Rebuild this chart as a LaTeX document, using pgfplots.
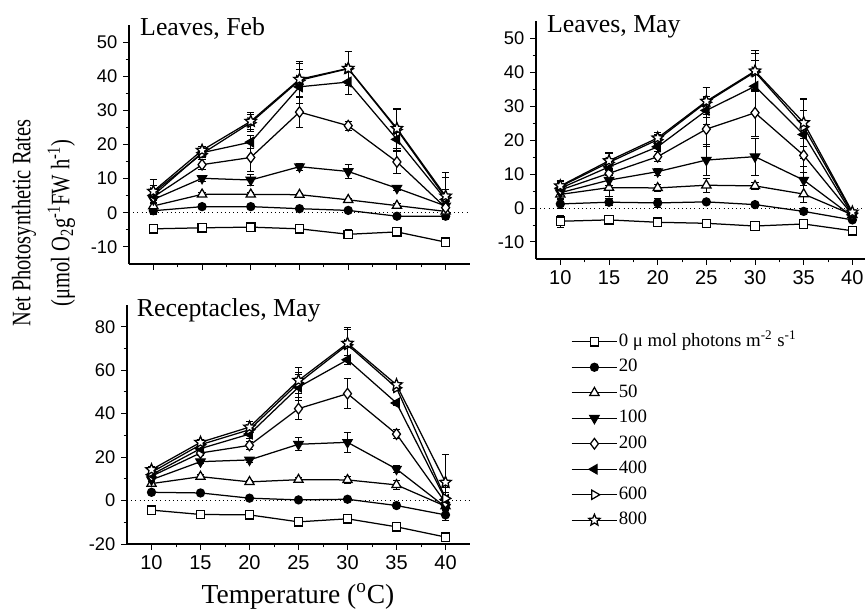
\documentclass[border=0pt]{standalone}
\usepackage{fontspec}
\setmainfont{Liberation Serif}
\newfontfamily\arialfont{Liberation Sans}
\usepackage{graphicx}
\usepackage{pgfplots}
\pgfplotsset{compat=1.18}
\usepackage{pgfplotstable}

\pgfdeclareplotmark{ostar}{%
  \pgfpathmoveto{\pgfpointpolar{90}{\pgfplotmarksize}}%
  \pgfpathlineto{\pgfpointpolar{126}{0.45\pgfplotmarksize}}%
  \pgfpathlineto{\pgfpointpolar{162}{\pgfplotmarksize}}%
  \pgfpathlineto{\pgfpointpolar{198}{0.45\pgfplotmarksize}}%
  \pgfpathlineto{\pgfpointpolar{234}{\pgfplotmarksize}}%
  \pgfpathlineto{\pgfpointpolar{270}{0.45\pgfplotmarksize}}%
  \pgfpathlineto{\pgfpointpolar{306}{\pgfplotmarksize}}%
  \pgfpathlineto{\pgfpointpolar{342}{0.45\pgfplotmarksize}}%
  \pgfpathlineto{\pgfpointpolar{18}{\pgfplotmarksize}}%
  \pgfpathlineto{\pgfpointpolar{54}{0.45\pgfplotmarksize}}%
  \pgfpathclose
  \pgfusepathqfillstroke
}

% columns: T, value and error for each irradiance
\pgfplotstableread{
T  s0   e0  s20  e20 s50 e50 s100 e100 s200 e200 s400 e400 s600 e600 s800 e800
10 -4.7 0.8 0.6  1.0 2.0 0.8 3.9  1.0  4.6  1.0  5.1  1.5  5.9  2.0  6.3  3.5
15 -4.4 0.5 1.8  0.5 5.4 0.5 10.1 0.8  14.1 1.5  17.6 1.0  17.3 1.0  18.3 1.0
20 -4.2 1.2 1.8  0.5 5.4 0.5 9.6  1.5  16.2 4.0  20.7 2.0  26.4 2.5  26.8 2.5
25 -4.7 1.2 1.2  0.5 5.3 0.5 13.5 1.0  29.5 4.5  36.9 5.0  38.8 5.0  39.1 5.3
30 -6.3 1.3 0.7  0.5 3.8 0.5 12.1 2.0  25.5 1.3  38.3 3.5  42.2 5.0  42.3 5.0
35 -5.6 1.0 -1.0 0.5 2.1 0.5 7.2  0.8  14.9 3.5  21.5 3.5  24.4 6.0  24.7 6.0
40 -8.6 1.0 -1.0 0.5 0.4 0.5 2.0  2.0  1.5  2.0  3.9  3.0  4.4  6.0  4.9  7.0
}\leavesfeb

\pgfplotstableread{
T  s0   e0  s20  e20 s50  e50 s100 e100 s200 e200 s400 e400 s600 e600 s800 e800
10 -3.9 1.8 1.2  1.2 4.0  1.2 4.5  1.0  5.3  1.0  5.8  1.5  6.3  1.5  6.5  1.5
15 -3.5 0.5 1.7  1.0 6.0  2.5 8.2  1.5  10.2 1.5  12.1 2.0  13.4 2.5  13.9 2.5
20 -4.2 0.5 1.5  1.2 5.9  1.0 10.7 1.0  15.1 1.5  18.0 1.5  20.1 1.5  20.6 1.5
25 -4.5 0.8 1.8  0.8 6.7  2.0 14.1 4.5  23.2 5.0  28.7 4.0  31.1 4.5  31.4 4.0
30 -5.3 0.5 1.0  0.5 6.5  1.0 15.1 5.5  28.0 7.0  35.8 7.5  40.0 5.5  40.3 6.0
35 -4.7 0.5 -1.0 1.0 4.1  2.5 8.2  4.0  15.5 5.0  21.6 7.0  23.9 8.0  25.1 7.0
40 -6.7 0.5 -3.5 0.5 -2.0 0.5 -2.5 0.5  -2.0 0.5  -2.0 0.5  -1.5 0.5  -1.2 0.5
}\leavesmay

\pgfplotstableread{
T  s0    e0  s20  e20 s50  e50 s100 e100 s200 e200 s400 e400 s600 e600 s800 e800
10 -4.4  0.5 3.8  0.5 7.8  0.8 9.6  0.8  11.2 1.0  11.9 1.0  13.0 1.0  14.2 1.5
15 -6.4  0.5 3.5  0.5 11.0 0.8 17.9 0.8  21.9 1.0  23.9 1.0  25.7 1.0  26.8 1.5
20 -6.6  0.5 1.1  0.8 8.6  0.8 18.7 1.0  25.4 2.0  30.6 2.0  32.6 2.0  33.8 2.5
25 -9.8  0.8 0.3  0.5 9.6  1.0 25.9 3.0  42.3 5.0  52.2 6.0  54.1 5.0  55.3 6.0
30 -8.4  0.8 0.6  0.5 9.5  1.5 26.8 4.5  49.2 7.0  64.8 2.0  71.7 7.0  72.4 7.5
35 -12.1 1.5 -2.3 0.8 7.2  2.0 14.5 1.5  30.6 2.0  44.9 1.0  51.9 1.0  53.3 1.0
40 -16.8 0.5 -6.6 2.5 -2.6 1.0 -3.0 3.0  -1.0 3.0  0.5  3.0  1.0  5.0  8.4  13.0
}\recmay

\pgfplotsset{
  panel/.style={
    scale only axis,
    axis x line*=bottom, axis y line*=left,
    xmin=7.5, xmax=42.5,
    xtick={10,15,...,40},
    minor x tick num=1,
    minor y tick num=1,
    tick align=outside,
    major tick length=3.5pt, minor tick length=2pt,
    tick style={black, line width=0.6pt},
    axis line style={black, line width=0.7pt},
    x tick label style={font=\fontsize{12}{12}\selectfont\arialfont},
    y tick label style={font=\fontsize{11}{11}\selectfont\arialfont},
    /pgf/number format/assume math mode=true,
    clip=false,
    legend image code/.code={\draw[mark repeat=2, mark phase=2] plot coordinates {(0cm,0cm) (0.48cm,0cm) (0.96cm,0cm)};},
    every axis plot/.append style={black, line width=0.75pt,
      /pgfplots/error bars/y dir=both,
      /pgfplots/error bars/y explicit,
      /pgfplots/error bars/error bar style={line width=0.55pt},
      /pgfplots/error bars/error mark options={rotate=90, mark size=2.2pt, line width=0.55pt}},
  },
  s0/.style={mark=square*, mark options={fill=white}, mark size=2.5pt},
  s20/.style={mark=*, mark options={fill=black}, mark size=2.4pt},
  s50/.style={mark=triangle*, mark options={fill=white}, mark size=3.2pt},
  s100/.style={mark=triangle*, mark options={rotate=180, fill=black}, mark size=3.2pt},
  s200/.style={mark=diamond*, mark options={fill=white}, mark size=3.2pt},
  s400/.style={mark=triangle*, mark options={rotate=90, fill=black}, mark size=3.2pt},
  s600/.style={mark=triangle*, mark options={rotate=-90, fill=white}, mark size=3.2pt},
  s800/.style={mark=ostar, mark options={fill=white}, mark size=3.6pt},
}

\begin{document}
\begin{tikzpicture}
\path[use as bounding box] (0,0) rectangle (519pt,367.2pt);

% ---------- Leaves, Feb ----------
\begin{axis}[panel, at={(77.4pt,208.8pt)}, width=204.6pt, height=143.4pt,
  ymin=-15, ymax=55, ytick={-10,0,...,50}, xticklabels={}]
\draw[dotted, line width=0.5pt] (axis cs:7.5,0) -- (axis cs:42.5,0);
\addplot[s0]   table[x=T, y=s0,   y error=e0]   {\leavesfeb};
\addplot[s20]  table[x=T, y=s20,  y error=e20]  {\leavesfeb};
\addplot[s50]  table[x=T, y=s50,  y error=e50]  {\leavesfeb};
\addplot[s100] table[x=T, y=s100, y error=e100] {\leavesfeb};
\addplot[s200] table[x=T, y=s200, y error=e200] {\leavesfeb};
\addplot[s400] table[x=T, y=s400, y error=e400] {\leavesfeb};
\addplot[s600] table[x=T, y=s600, y error=e600] {\leavesfeb};
\addplot[s800] table[x=T, y=s800, y error=e800] {\leavesfeb};
\node[anchor=base west, inner sep=0pt, font=\fontsize{15.5}{15.5}\selectfont] at (rel axis cs:0.032,0.958) {Leaves, Feb};
\end{axis}

% ---------- Leaves, May ----------
\begin{axis}[panel, at={(321.6pt,211.8pt)}, width=197.4pt, height=142.8pt,
  xmax=41.3,
  ymin=-15, ymax=55, ytick={-10,0,...,50}]
\draw[dotted, line width=0.5pt] (axis cs:7.5,0) -- (axis cs:41.3,0);
\addplot[s0]   table[x=T, y=s0,   y error=e0]   {\leavesmay};
\addplot[s20]  table[x=T, y=s20,  y error=e20]  {\leavesmay};
\addplot[s50]  table[x=T, y=s50,  y error=e50]  {\leavesmay};
\addplot[s100] table[x=T, y=s100, y error=e100] {\leavesmay};
\addplot[s200] table[x=T, y=s200, y error=e200] {\leavesmay};
\addplot[s400] table[x=T, y=s400, y error=e400] {\leavesmay};
\addplot[s600] table[x=T, y=s600, y error=e600] {\leavesmay};
\addplot[s800] table[x=T, y=s800, y error=e800] {\leavesmay};
\node[anchor=base west, inner sep=0pt, font=\fontsize{15.5}{15.5}\selectfont] at (rel axis cs:0.033,0.95) {Leaves, May};
\end{axis}

% ---------- Receptacles, May ----------
\begin{axis}[panel, at={(76.2pt,40.8pt)}, width=205.8pt, height=143.4pt,
  ymin=-20, ymax=90, ytick={-20,0,...,80},
  legend style={at={(1.2936,0.885)}, anchor=north west, draw=none, fill=none,
    inner sep=0pt, row sep=4.6pt,
    font=\fontsize{11.3}{11.3}\selectfont,
    nodes={inner sep=0.6pt, text height=7.5pt, text depth=2pt}},
  legend cell align=left]
\draw[dotted, line width=0.5pt] (axis cs:7.5,0) -- (axis cs:42.5,0);
\addplot[s0]   table[x=T, y=s0,   y error=e0]   {\recmay};
\addlegendentry{0 μ mol photons m\textsuperscript{-2} s\textsuperscript{-1}}
\addplot[s20]  table[x=T, y=s20,  y error=e20]  {\recmay};
\addlegendentry{20}
\addplot[s50]  table[x=T, y=s50,  y error=e50]  {\recmay};
\addlegendentry{50}
\addplot[s100] table[x=T, y=s100, y error=e100] {\recmay};
\addlegendentry{100}
\addplot[s200] table[x=T, y=s200, y error=e200] {\recmay};
\addlegendentry{200}
\addplot[s400] table[x=T, y=s400, y error=e400] {\recmay};
\addlegendentry{400}
\addplot[s600] table[x=T, y=s600, y error=e600] {\recmay};
\addlegendentry{600}
\addplot[s800] table[x=T, y=s800, y error=e800] {\recmay};
\addlegendentry{800}
\node[anchor=base west, inner sep=0pt, font=\fontsize{15.5}{15.5}\selectfont] at (rel axis cs:0.028,0.951) {Receptacles, May};
\end{axis}

% shared axis titles
\node[rotate=90, inner sep=0pt] at (25.2pt,233.4pt)
  {\scalebox{1}[1.3]{\fontsize{12.3}{18}\selectfont\begin{tabular}{@{}c@{}}Net Photosynthetic Rates\\(μmol O\textsubscript{2}g\textsuperscript{-1}FW h\textsuperscript{-1})\end{tabular}}};
\node[anchor=base, inner sep=0pt, font=\fontsize{16.5}{16.5}\selectfont] at (178.8pt,5.4pt) {Temperature (\textsuperscript{o}C)};
\end{tikzpicture}
\end{document}
